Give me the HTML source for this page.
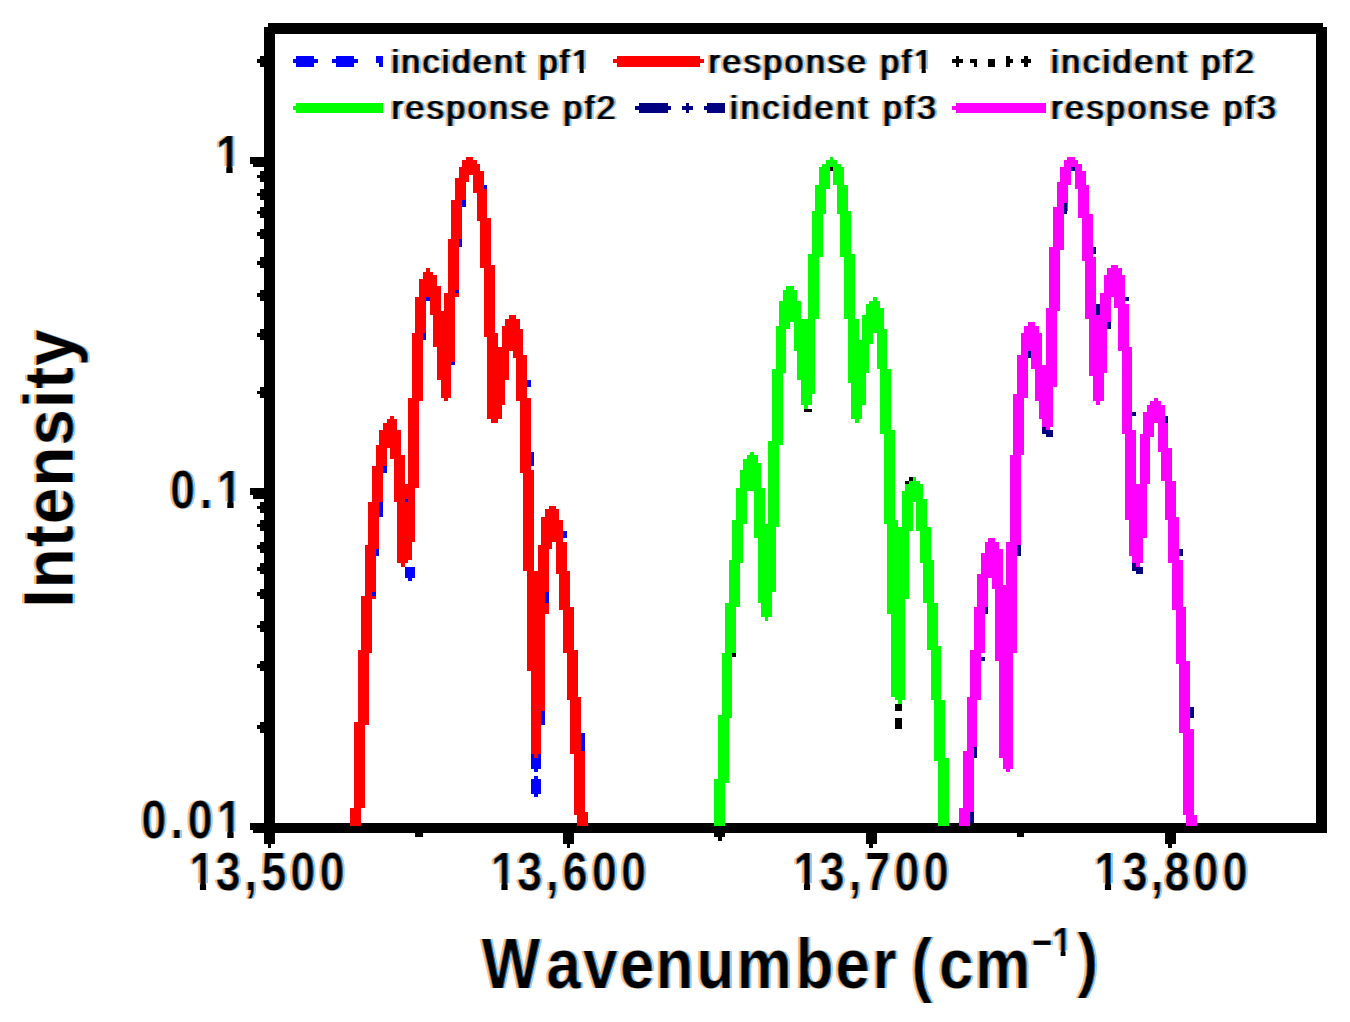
<!DOCTYPE html>
<html lang="en"><head><meta charset="utf-8"><title>Intensity vs Wavenumber</title>
<style>
html,body{margin:0;padding:0;background:#fff;}
body{width:1350px;height:1022px;overflow:hidden;}
svg{display:block;}
text{font-family:"Liberation Sans",sans-serif;font-weight:bold;fill:#000;}
.tk text{font-size:54px;}
.lg text{font-size:34px;font-weight:normal;}
.ti text{font-size:65px;}
</style></head><body>
<svg width="1350" height="1022" viewBox="0 0 1350 1022">
<defs>
<filter id="ct" x="-5%" y="-15%" width="110%" height="130%" color-interpolation-filters="sRGB">
<feOffset in="SourceAlpha" dx="0" dy="0" result="A"/>
<feOffset in="A" dx="-2.0" dy="0" result="OL"/>
<feOffset in="A" dx="2.0" dy="0" result="OR"/>
<feOffset in="A" dx="1.3" dy="0" result="L"/>
<feOffset in="A" dx="-1.3" dy="0" result="R"/>
<feComposite in="A" in2="L" operator="in" result="AL"/>
<feComposite in="AL" in2="R" operator="in" result="core"/>
<feFlood flood-color="#ffc080"/><feComposite in2="OL" operator="in" result="l0"/>
<feFlood flood-color="#90d0ff"/><feComposite in2="OR" operator="in" result="l1"/>
<feFlood flood-color="#b85c10"/><feComposite in2="A" operator="in" result="l2"/>
<feFlood flood-color="#0868c0"/><feComposite in2="AL" operator="in" result="l3"/>
<feFlood flood-color="#000"/><feComposite in2="core" operator="in" result="l4"/>
<feMerge><feMergeNode in="l0"/><feMergeNode in="l1"/><feMergeNode in="l2"/><feMergeNode in="l3"/><feMergeNode in="l4"/></feMerge>
</filter>
<filter id="ctl" x="-5%" y="-15%" width="110%" height="130%" color-interpolation-filters="sRGB">
<feMorphology in="SourceAlpha" operator="dilate" radius="1 0" result="A"/>
<feOffset in="A" dx="-2.0" dy="0" result="OL"/>
<feOffset in="A" dx="2.0" dy="0" result="OR"/>
<feOffset in="A" dx="1.1" dy="0" result="L"/>
<feOffset in="A" dx="-1.1" dy="0" result="R"/>
<feComposite in="A" in2="L" operator="in" result="AL"/>
<feComposite in="AL" in2="R" operator="in" result="core"/>
<feFlood flood-color="#ffc080"/><feComposite in2="OL" operator="in" result="l0"/>
<feFlood flood-color="#90d0ff"/><feComposite in2="OR" operator="in" result="l1"/>
<feFlood flood-color="#b85c10"/><feComposite in2="A" operator="in" result="l2"/>
<feFlood flood-color="#0868c0"/><feComposite in2="AL" operator="in" result="l3"/>
<feFlood flood-color="#000"/><feComposite in2="core" operator="in" result="l4"/>
<feMerge><feMergeNode in="l0"/><feMergeNode in="l1"/><feMergeNode in="l2"/><feMergeNode in="l3"/><feMergeNode in="l4"/></feMerge>
</filter>
<filter id="ctt" x="-5%" y="-15%" width="110%" height="130%" color-interpolation-filters="sRGB">
<feOffset in="SourceAlpha" dx="0" dy="0" result="A"/>
<feOffset in="A" dx="-1.6" dy="0" result="OL"/>
<feOffset in="A" dx="1.6" dy="0" result="OR"/>
<feOffset in="A" dx="1.3" dy="0" result="L"/>
<feOffset in="A" dx="-1.3" dy="0" result="R"/>
<feComposite in="A" in2="L" operator="in" result="AL"/>
<feComposite in="AL" in2="R" operator="in" result="core"/>
<feFlood flood-color="#ffc080"/><feComposite in2="OL" operator="in" result="l0"/>
<feFlood flood-color="#90d0ff"/><feComposite in2="OR" operator="in" result="l1"/>
<feFlood flood-color="#b85c10"/><feComposite in2="A" operator="in" result="l2"/>
<feFlood flood-color="#0868c0"/><feComposite in2="AL" operator="in" result="l3"/>
<feFlood flood-color="#000"/><feComposite in2="core" operator="in" result="l4"/>
<feMerge><feMergeNode in="l0"/><feMergeNode in="l1"/><feMergeNode in="l2"/><feMergeNode in="l3"/><feMergeNode in="l4"/></feMerge>
</filter>
</defs>
<rect x="0" y="0" width="1350" height="1022" fill="#fff"/>
<g id="axes"><path fill="#000" shape-rendering="crispEdges" d="M267.60 23.4h1055.68v3.6h-1055.68zM264.00 27.0h1062.88v7.2h-1062.88zM264.00 27.0h10.81v806.4h-10.81zM1316.08 27.0h10.81v806.4h-10.81zM264.00 822.6h1062.88v10.8h-1062.88zM249.59 156.6h14.41v7.2h-14.41zM253.19 163.8h10.81v3.6h-10.81zM249.59 487.8h14.41v7.2h-14.41zM253.19 495.0h10.81v3.6h-10.81zM249.59 822.6h14.41v7.2h-14.41zM253.19 829.8h10.81v3.6h-10.81zM256.79 59.4h7.21v3.6h-7.21zM260.40 55.8h3.60v10.8h-3.60zM256.79 174.6h7.21v3.6h-7.21zM260.40 171.0h3.60v10.8h-3.60zM256.79 192.6h7.21v3.6h-7.21zM260.40 189.0h3.60v10.8h-3.60zM256.79 210.6h7.21v3.6h-7.21zM260.40 207.0h3.60v10.8h-3.60zM256.79 232.2h7.21v3.6h-7.21zM260.40 228.6h3.60v10.8h-3.60zM256.79 261.0h7.21v3.6h-7.21zM260.40 257.4h3.60v10.8h-3.60zM256.79 293.4h7.21v3.6h-7.21zM260.40 289.8h3.60v10.8h-3.60zM256.79 333.0h7.21v3.6h-7.21zM260.40 329.4h3.60v10.8h-3.60zM256.79 390.6h7.21v3.6h-7.21zM260.40 387.0h3.60v10.8h-3.60zM256.79 505.8h7.21v3.6h-7.21zM260.40 502.2h3.60v10.8h-3.60zM256.79 523.8h7.21v3.6h-7.21zM260.40 520.2h3.60v10.8h-3.60zM256.79 545.4h7.21v3.6h-7.21zM260.40 541.8h3.60v10.8h-3.60zM256.79 567.0h7.21v3.6h-7.21zM260.40 563.4h3.60v10.8h-3.60zM256.79 592.2h7.21v3.6h-7.21zM260.40 588.6h3.60v10.8h-3.60zM256.79 624.6h7.21v3.6h-7.21zM260.40 621.0h3.60v10.8h-3.60zM256.79 664.2h7.21v3.6h-7.21zM260.40 660.6h3.60v10.8h-3.60zM256.79 725.4h7.21v3.6h-7.21zM260.40 721.8h3.60v10.8h-3.60zM264.00 833.4h10.81v10.8h-10.81zM267.60 844.2h3.60v3.6h-3.60zM563.05 833.4h10.81v10.8h-10.81zM566.65 844.2h3.60v3.6h-3.60zM865.70 833.4h10.81v10.8h-10.81zM869.30 844.2h3.60v3.6h-3.60zM1164.75 833.4h10.81v10.8h-10.81zM1168.35 844.2h3.60v3.6h-3.60zM415.33 833.4h7.21v3.6h-7.21zM714.37 833.4h10.81v3.6h-10.81zM717.98 837.0h3.60v3.6h-3.60zM1017.03 833.4h7.21v3.6h-7.21z"/></g>
<g id="incident">
<path fill="#0000ff" shape-rendering="crispEdges" d="M404.52 567.0h10.81v10.8h-10.81zM408.12 577.8h3.60v3.6h-3.60zM530.62 747.0h10.81v21.6h-10.81zM534.22 768.6h3.60v3.6h-3.60zM534.22 775.8h3.60v3.6h-3.60zM530.62 779.4h10.81v14.4h-10.81zM534.22 793.8h3.60v3.6h-3.60z"/>
<path fill="#000000" shape-rendering="crispEdges" d="M894.52 703.8h7.21v7.2h-7.21zM894.52 718.2h7.21v10.8h-7.21zM804.45 408.6h7.21v3.6h-7.21z"/>
<path fill="#000080" shape-rendering="crispEdges" d="M1042.25 426.6h3.60v7.2h-3.60zM1045.85 430.2h7.21v7.2h-7.21zM1132.32 563.4h3.60v7.2h-3.60zM1135.93 567.0h7.21v7.2h-7.21z"/>
</g>
<g id="curves">
<path fill="#ff0000" shape-rendering="crispEdges" d="M350.47 808.20h3.65v18.00h-3.65zM354.07 721.80h3.65v104.40h-3.65zM357.68 649.80h3.65v176.40h-3.65zM361.28 595.80h3.65v212.40h-3.65zM364.88 545.40h3.65v180.00h-3.65zM368.49 502.20h3.65v151.20h-3.65zM372.09 466.20h3.65v133.20h-3.65zM375.69 444.60h3.65v104.40h-3.65zM379.30 430.20h3.65v75.60h-3.65zM382.90 423.00h3.65v46.80h-3.65zM386.50 419.40h3.65v28.80h-3.65zM390.10 415.80h3.65v43.20h-3.65zM393.71 419.40h3.65v82.80h-3.65zM397.31 430.20h3.65v133.20h-3.65zM400.91 455.40h3.65v111.60h-3.65zM404.52 484.20h3.65v79.20h-3.65zM408.12 397.80h3.65v162.00h-3.65zM411.72 333.00h3.65v208.80h-3.65zM415.33 297.00h3.65v190.80h-3.65zM418.93 279.00h3.65v122.40h-3.65zM422.53 271.80h3.65v64.80h-3.65zM426.13 268.20h3.65v32.40h-3.65zM429.74 271.80h3.65v43.20h-3.65zM433.34 275.40h3.65v72.00h-3.65zM436.94 286.20h3.65v93.60h-3.65zM440.55 311.40h3.65v86.40h-3.65zM444.15 293.40h3.65v108.00h-3.65zM447.75 239.40h3.65v158.40h-3.65zM451.36 199.80h3.65v165.60h-3.65zM454.96 178.20h3.65v118.80h-3.65zM458.56 167.40h3.65v72.00h-3.65zM462.16 160.20h3.65v43.20h-3.65zM465.77 156.60h3.65v25.20h-3.65zM469.37 156.60h3.65v18.00h-3.65zM472.97 160.20h3.65v32.40h-3.65zM476.58 163.80h3.65v57.60h-3.65zM480.18 171.00h3.65v97.20h-3.65zM483.78 189.00h3.65v147.60h-3.65zM487.39 217.80h3.65v201.60h-3.65zM490.99 264.60h3.65v158.40h-3.65zM494.59 333.00h3.65v90.00h-3.65zM498.19 347.40h3.65v72.00h-3.65zM501.80 325.80h3.65v79.20h-3.65zM505.40 318.60h3.65v61.20h-3.65zM509.00 315.00h3.65v36.00h-3.65zM512.61 315.00h3.65v43.20h-3.65zM516.21 318.60h3.65v82.80h-3.65zM519.81 329.40h3.65v144.00h-3.65zM523.42 354.60h3.65v216.00h-3.65zM527.02 397.80h3.65v273.60h-3.65zM530.62 469.80h3.65v284.40h-3.65zM534.22 570.60h3.65v187.20h-3.65zM537.83 545.40h3.65v208.80h-3.65zM541.43 516.60h3.65v198.00h-3.65zM545.03 509.40h3.65v104.40h-3.65zM548.64 505.80h3.65v43.20h-3.65zM552.24 505.80h3.65v36.00h-3.65zM555.84 509.40h3.65v64.80h-3.65zM559.45 520.20h3.65v90.00h-3.65zM563.05 541.80h3.65v111.60h-3.65zM566.65 570.60h3.65v129.60h-3.65zM570.25 606.60h3.65v147.60h-3.65zM573.86 649.80h3.65v165.60h-3.65zM577.46 696.60h3.65v129.60h-3.65zM581.06 750.60h3.65v75.60h-3.65zM584.67 811.80h3.65v14.40h-3.65z"/>
<path fill="#00ff00" shape-rendering="crispEdges" d="M714.37 779.40h3.65v46.80h-3.65zM717.98 714.60h3.65v111.60h-3.65zM721.58 653.40h3.65v172.80h-3.65zM725.18 603.00h3.65v180.00h-3.65zM728.79 559.80h3.65v158.40h-3.65zM732.39 520.20h3.65v136.80h-3.65zM735.99 487.80h3.65v118.80h-3.65zM739.60 469.80h3.65v93.60h-3.65zM743.20 459.00h3.65v64.80h-3.65zM746.80 455.40h3.65v36.00h-3.65zM750.40 451.80h3.65v39.60h-3.65zM754.01 455.40h3.65v82.80h-3.65zM757.61 462.60h3.65v140.40h-3.65zM761.21 487.80h3.65v129.60h-3.65zM764.82 523.80h3.65v97.20h-3.65zM768.42 441.00h3.65v176.40h-3.65zM772.02 369.00h3.65v223.20h-3.65zM775.63 325.80h3.65v201.60h-3.65zM779.23 300.60h3.65v144.00h-3.65zM782.83 289.80h3.65v82.80h-3.65zM786.43 286.20h3.65v43.20h-3.65zM790.04 286.20h3.65v36.00h-3.65zM793.64 289.80h3.65v61.20h-3.65zM797.24 300.60h3.65v79.20h-3.65zM800.85 318.60h3.65v86.40h-3.65zM804.45 318.60h3.65v90.00h-3.65zM808.05 253.80h3.65v151.20h-3.65zM811.66 210.60h3.65v183.60h-3.65zM815.26 185.40h3.65v133.20h-3.65zM818.86 167.40h3.65v90.00h-3.65zM822.46 163.80h3.65v50.40h-3.65zM826.07 160.20h3.65v28.80h-3.65zM829.67 156.60h3.65v14.40h-3.65zM833.27 160.20h3.65v25.20h-3.65zM836.88 163.80h3.65v50.40h-3.65zM840.48 167.40h3.65v90.00h-3.65zM844.08 185.40h3.65v133.20h-3.65zM847.69 210.60h3.65v172.80h-3.65zM851.29 253.80h3.65v165.60h-3.65zM854.89 318.60h3.65v104.40h-3.65zM858.49 340.20h3.65v79.20h-3.65zM862.10 315.00h3.65v90.00h-3.65zM865.70 304.20h3.65v68.40h-3.65zM869.30 300.60h3.65v43.20h-3.65zM872.91 297.00h3.65v36.00h-3.65zM876.51 300.60h3.65v68.40h-3.65zM880.11 307.80h3.65v126.00h-3.65zM883.72 329.40h3.65v194.40h-3.65zM887.32 369.00h3.65v244.80h-3.65zM890.92 430.20h3.65v266.40h-3.65zM894.52 520.20h3.65v180.00h-3.65zM898.13 527.40h3.65v176.40h-3.65zM901.73 491.40h3.65v208.80h-3.65zM905.33 484.20h3.65v115.20h-3.65zM908.94 480.60h3.65v50.40h-3.65zM912.54 477.00h3.65v25.20h-3.65zM916.14 480.60h3.65v50.40h-3.65zM919.75 484.20h3.65v79.20h-3.65zM923.35 498.60h3.65v104.40h-3.65zM926.95 527.40h3.65v122.40h-3.65zM930.55 559.80h3.65v140.40h-3.65zM934.16 603.00h3.65v158.40h-3.65zM937.76 646.20h3.65v180.00h-3.65zM941.36 700.20h3.65v126.00h-3.65zM944.97 757.80h3.65v68.40h-3.65z"/>
<path fill="#ff00ff" shape-rendering="crispEdges" d="M959.38 808.20h3.65v18.00h-3.65zM962.98 750.60h3.65v75.60h-3.65zM966.58 696.60h3.65v129.60h-3.65zM970.19 649.80h3.65v162.00h-3.65zM973.79 606.60h3.65v147.60h-3.65zM977.39 574.20h3.65v126.00h-3.65zM981.00 552.60h3.65v100.80h-3.65zM984.60 541.80h3.65v68.40h-3.65zM988.20 538.20h3.65v39.60h-3.65zM991.81 538.20h3.65v50.40h-3.65zM995.41 541.80h3.65v118.80h-3.65zM999.01 549.00h3.65v208.80h-3.65zM1002.61 585.00h3.65v183.60h-3.65zM1006.22 541.80h3.65v230.40h-3.65zM1009.82 455.40h3.65v313.20h-3.65zM1013.42 394.20h3.65v259.20h-3.65zM1017.03 354.60h3.65v190.80h-3.65zM1020.63 333.00h3.65v122.40h-3.65zM1024.23 325.80h3.65v72.00h-3.65zM1027.84 322.20h3.65v36.00h-3.65zM1031.44 322.20h3.65v46.80h-3.65zM1035.04 325.80h3.65v75.60h-3.65zM1038.64 333.00h3.65v86.40h-3.65zM1042.25 365.40h3.65v61.20h-3.65zM1045.85 307.80h3.65v122.40h-3.65zM1049.45 246.60h3.65v180.00h-3.65zM1053.06 207.00h3.65v180.00h-3.65zM1056.66 181.80h3.65v129.60h-3.65zM1060.26 167.40h3.65v82.80h-3.65zM1063.87 160.20h3.65v50.40h-3.65zM1067.47 156.60h3.65v28.80h-3.65zM1071.07 156.60h3.65v14.40h-3.65zM1074.67 160.20h3.65v28.80h-3.65zM1078.28 163.80h3.65v54.00h-3.65zM1081.88 171.00h3.65v90.00h-3.65zM1085.48 185.40h3.65v133.20h-3.65zM1089.09 214.20h3.65v162.00h-3.65zM1092.69 257.40h3.65v144.00h-3.65zM1096.29 315.00h3.65v90.00h-3.65zM1099.89 293.40h3.65v108.00h-3.65zM1103.50 275.40h3.65v97.20h-3.65zM1107.10 268.20h3.65v57.60h-3.65zM1110.70 264.60h3.65v32.40h-3.65zM1114.31 264.60h3.65v43.20h-3.65zM1117.91 268.20h3.65v82.80h-3.65zM1121.51 275.40h3.65v158.40h-3.65zM1125.12 304.20h3.65v216.00h-3.65zM1128.72 347.40h3.65v208.80h-3.65zM1132.32 430.20h3.65v133.20h-3.65zM1135.93 484.20h3.65v82.80h-3.65zM1139.53 433.80h3.65v129.60h-3.65zM1143.13 412.20h3.65v126.00h-3.65zM1146.73 405.00h3.65v79.20h-3.65zM1150.34 401.40h3.65v36.00h-3.65zM1153.94 397.80h3.65v25.20h-3.65zM1157.54 401.40h3.65v50.40h-3.65zM1161.15 405.00h3.65v75.60h-3.65zM1164.75 419.40h3.65v100.80h-3.65zM1168.35 448.20h3.65v115.20h-3.65zM1171.96 480.60h3.65v129.60h-3.65zM1175.56 516.60h3.65v147.60h-3.65zM1179.16 559.80h3.65v172.80h-3.65zM1182.76 606.60h3.65v208.80h-3.65zM1186.37 660.60h3.65v165.60h-3.65zM1189.97 729.00h3.65v97.20h-3.65zM1193.57 815.40h3.65v10.80h-3.65z"/>
</g>
<g id="specks">
<path fill="#0000ff" shape-rendering="crispEdges" d="M483.78 185.4h3.60v3.6h-3.60zM462.16 199.8h3.60v7.2h-3.60zM458.56 239.4h3.60v7.2h-3.60zM454.96 289.8h3.60v3.6h-3.60zM426.13 297.0h3.60v3.6h-3.60zM422.53 333.0h3.60v7.2h-3.60zM451.36 361.8h3.60v3.6h-3.60zM527.02 379.8h3.60v7.2h-3.60zM530.62 451.8h3.60v14.4h-3.60zM382.90 466.2h3.60v7.2h-3.60zM379.30 502.2h3.60v14.4h-3.60zM404.52 498.6h3.60v3.6h-3.60zM545.03 592.2h3.60v10.8h-3.60zM541.43 711.0h3.60v14.4h-3.60zM581.06 732.6h3.60v18.0h-3.60zM563.05 531.0h3.60v7.2h-3.60zM375.69 549.0h3.60v7.2h-3.60zM372.09 592.2h3.60v3.6h-3.60z"/>
<path fill="#000080" shape-rendering="crispEdges" d="M1063.87 203.4h3.60v10.8h-3.60zM1092.69 246.6h3.60v7.2h-3.60zM1096.29 304.2h3.60v10.8h-3.60zM1107.10 322.2h3.60v7.2h-3.60zM1125.12 297.0h3.60v3.6h-3.60zM1071.07 167.4h3.60v3.6h-3.60zM1027.84 351.0h3.60v7.2h-3.60zM1132.32 412.2h3.60v3.6h-3.60zM1164.75 415.8h3.60v7.2h-3.60zM1017.03 545.4h3.60v10.8h-3.60zM984.60 606.6h3.60v7.2h-3.60zM981.00 657.0h3.60v3.6h-3.60zM1179.16 549.0h3.60v7.2h-3.60zM1189.97 707.4h3.60v10.8h-3.60zM973.79 747.0h3.60v10.8h-3.60zM970.19 811.8h3.60v10.8h-3.60z"/>
<path fill="#000000" shape-rendering="crispEdges" d="M829.67 167.4h3.60v3.6h-3.60zM908.94 477.0h3.60v3.6h-3.60zM905.33 480.6h3.60v3.6h-3.60zM732.39 653.4h3.60v3.6h-3.60z"/>
</g>
<g id="ticklabels" class="tk" filter="url(#ct)">
<text transform="scale(0.84,1)" x="256.9" y="173">1</text>
<text transform="scale(0.84,1)" x="202.4 237.7 258.1" y="508">0.1</text>
<text transform="scale(0.84,1)" x="168.1 203.1 223.1 258.1" y="838.5">0.01</text>
<text transform="scale(0.84,1)" x="225.4 256.5 291.2 310.9 345.6 380.3" y="890">13,500</text>
<text transform="scale(0.84,1)" x="584.3 615.4 650.1 669.8 704.5 739.3" y="890">13,600</text>
<text transform="scale(0.84,1)" x="944.4 975.5 1010.3 1029.9 1064.7 1099.4" y="890">13,700</text>
<text transform="scale(0.84,1)" x="1302.7 1336.3 1369.8 1385.9 1420.6 1455.3" y="890">13,800</text>
</g>
<g id="titles" class="ti" filter="url(#ctt)">
<text transform="scale(0.89,1)" x="541.1 613.8 655.2 696.3 736.4 782.4 827.5 893.8 938.4 980.0 1006.7 1024.0 1054.7 1095.5" y="988" style="font-size:70px">Wavenumber (cm</text>
<text transform="translate(1031.5,955.8) scale(0.89,1)" style="font-size:40px">−1</text>
<text transform="translate(1077.5,983) scale(0.89,1)" style="font-size:70px">)</text>
</g>
<g id="ytitle" class="ti" filter="url(#ctt)">
<text transform="translate(73,607.5) rotate(-90) scale(0.93,1)" style="font-size:70px" textLength="298.9" lengthAdjust="spacing">Intensity</text>
</g>
<g id="legend">
<path fill="#0000ff" shape-rendering="crispEdges" d="M292.82 59.4h25.22v3.6h-25.22zM296.43 55.8h18.02v10.8h-18.02zM332.46 59.4h25.22v3.6h-25.22zM336.06 55.8h18.02v10.8h-18.02zM375.69 55.8h3.60v7.2h-3.60zM379.30 55.8h3.60v10.8h-3.60z"/>
<path fill="#ff0000" shape-rendering="crispEdges" d="M613.49 59.4h90.08v3.6h-90.08zM617.09 55.8h82.87v10.8h-82.87z"/>
<path fill="#000000" shape-rendering="crispEdges" d="M952.17 59.4h10.81v3.6h-10.81zM955.78 55.8h3.60v10.8h-3.60zM970.19 59.4h7.21v3.6h-7.21zM973.79 63.0h3.60v3.6h-3.60zM988.20 59.4h7.21v7.2h-7.21zM1006.22 55.8h3.60v10.8h-3.60zM1009.82 59.4h3.60v3.6h-3.60zM1020.63 59.4h10.81v3.6h-10.81zM1024.23 55.8h3.60v10.8h-3.60z"/>
<path fill="#00ff00" shape-rendering="crispEdges" d="M292.82 106.2h90.08v3.6h-90.08zM296.43 102.6h86.47v10.8h-86.47z"/>
<path fill="#000080" shape-rendering="crispEdges" d="M635.11 106.2h36.03v3.6h-36.03zM638.71 102.6h28.82v10.8h-28.82zM681.95 106.2h10.81v3.6h-10.81zM685.55 102.6h3.60v10.8h-3.60zM703.57 106.2h21.62v3.6h-21.62zM707.17 102.6h18.02v10.8h-18.02z"/>
<path fill="#ff00ff" shape-rendering="crispEdges" d="M952.17 106.2h93.68v3.6h-93.68zM955.78 102.6h90.08v10.8h-90.08z"/>
<g class="lg" filter="url(#ctl)">
<text x="391.5" y="73" textLength="199" lengthAdjust="spacing">incident pf1</text>
<text x="708.5" y="73" textLength="224" lengthAdjust="spacing">response pf1</text>
<text x="1051" y="73" textLength="203" lengthAdjust="spacing">incident pf2</text>
<text x="391.5" y="119" textLength="224" lengthAdjust="spacing">response pf2</text>
<text x="730" y="119" textLength="206" lengthAdjust="spacing">incident pf3</text>
<text x="1051" y="119" textLength="225" lengthAdjust="spacing">response pf3</text>
</g></g>
<g id="nofoot" fill="#fff"><rect x="215.4" y="166.1" width="10.9" height="7.8"/><rect x="232.6" y="166.1" width="10.4" height="7.8"/><rect x="216.4" y="501.1" width="10.9" height="7.8"/><rect x="233.6" y="501.1" width="10.4" height="7.8"/><rect x="216.4" y="831.6" width="10.9" height="7.8"/><rect x="233.6" y="831.6" width="10.4" height="7.8"/><rect x="189.0" y="883.1" width="10.9" height="7.8"/><rect x="206.1" y="883.1" width="10.4" height="7.8"/><rect x="490.5" y="883.1" width="10.9" height="7.8"/><rect x="507.6" y="883.1" width="10.4" height="7.8"/><rect x="793.0" y="883.1" width="10.9" height="7.8"/><rect x="810.1" y="883.1" width="10.4" height="7.8"/><rect x="1094.0" y="883.1" width="10.9" height="7.8"/><rect x="1111.1" y="883.1" width="10.4" height="7.8"/><rect x="1051.3" y="950.3" width="9.3" height="6.4"/><rect x="1065.5" y="950.3" width="8.8" height="6.4"/><rect x="571.0" y="69.1" width="8.6" height="4.8"/><rect x="583.8" y="69.1" width="8.2" height="4.8"/><rect x="913.0" y="69.1" width="8.6" height="4.8"/><rect x="925.8" y="69.1" width="8.2" height="4.8"/></g>
</svg></body></html>
